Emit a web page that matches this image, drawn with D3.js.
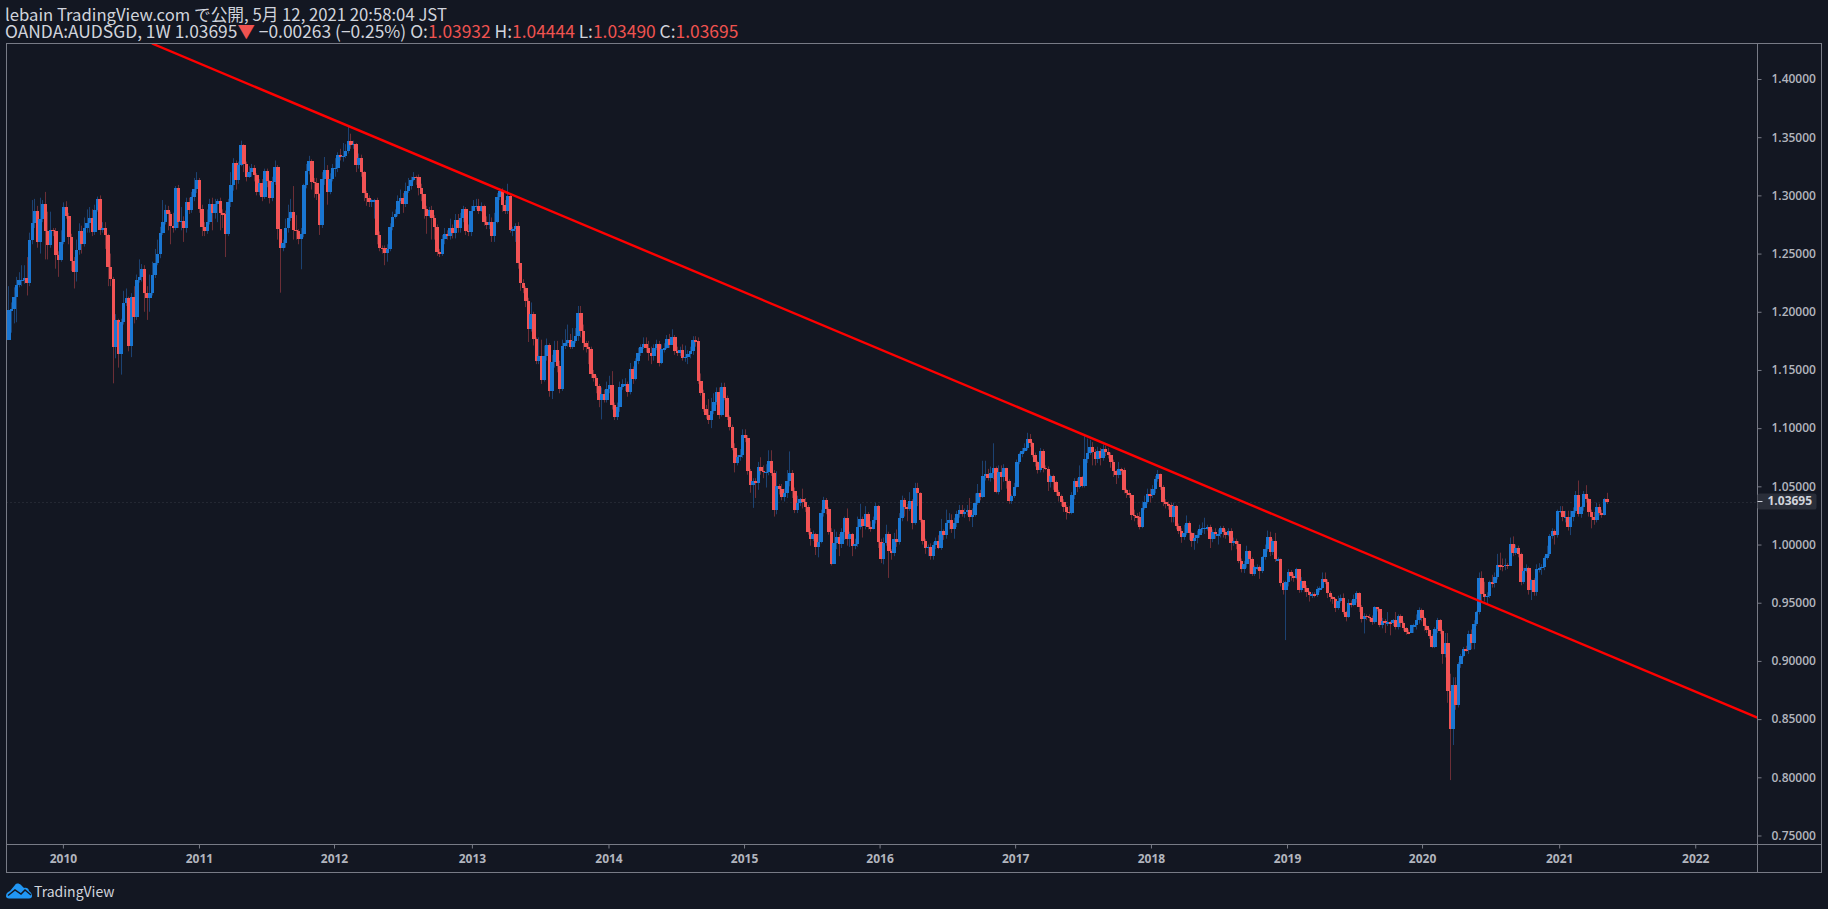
<!DOCTYPE html>
<html lang="ja">
<head>
  <meta charset="UTF-8" />
  <title>OANDA:AUDSGD 1W</title>
  <script src="https://d3js.org/d3.v7.min.js"></script>
  <style>
    html, body { margin: 0; background: #131722; overflow: hidden; }
    svg { display: block; }
    .head { font-family: "Noto Sans CJK JP", sans-serif; fill: #d1d4dc; }
    .head .dn { fill: #ef5350; }
    .tick text { font-family: "Open Sans", sans-serif; font-size: 12px; font-weight: 600; fill: #b2b5be; }
    .year .tick text { font-weight: 700; }
    .tick line, .frame { stroke: #787b86; }
    .domain { display: none; }
    .brand { font-family: "Noto Sans CJK JP", sans-serif; font-size: 14px; fill: #d1d4dc; }
    .body { shape-rendering: crispEdges; }
  </style>
</head>
<body>
  <svg id="chart" width="1828" height="909"></svg>
  <script>
    // weekly bars, first bar Aug 2009, last bar May 2021
    const opens = [
      1.1757,1.2015,1.2021,1.2124,1.2227,1.2270,1.2273,1.2287,1.2247,1.2617,
      1.2760,1.2866,1.2602,1.2797,1.2926,1.2697,1.2574,1.2703,1.2697,1.2488,
      1.2448,1.2602,1.2897,1.2826,1.2645,1.2439,1.2345,1.2531,1.2691,1.2582,
      1.2717,1.2760,1.2803,1.2688,1.2875,1.2966,1.2703,1.2717,1.2660,1.2382,
      1.2284,1.1700,1.1929,1.1637,1.1915,1.2073,1.2115,1.1706,1.2127,1.1958,
      1.2270,1.2296,1.2365,1.2164,1.2121,1.2164,1.2316,1.2416,1.2496,1.2674,
      1.2771,1.2875,1.2837,1.2740,1.2723,1.3064,1.2774,1.2780,1.2723,1.2943,
      1.2875,1.2983,1.3052,1.3132,1.2880,1.2731,1.2694,1.2771,1.2926,1.2846,
      1.2926,1.2952,1.2846,1.2843,1.2671,1.2940,1.3089,1.3278,1.3132,1.3261,
      1.3433,1.3267,1.3161,1.3198,1.3233,1.3175,1.3029,1.3104,1.2986,1.3210,
      1.3121,1.2978,1.3115,1.3244,1.2708,1.2548,1.2588,1.2717,1.2803,1.2857,
      1.2703,1.2694,1.2628,1.2668,1.3089,1.3213,1.3293,1.3115,1.3104,1.3009,
      1.2746,1.3138,1.3218,1.3029,1.3138,1.3233,1.3238,1.3347,1.3333,1.3339,
      1.3379,1.3470,1.3430,1.3442,1.3261,1.3321,1.3198,1.3018,1.2981,1.2943,
      1.2958,1.2958,1.2660,1.2551,1.2548,1.2502,1.2537,1.2726,1.2812,1.2837,
      1.2952,1.2975,1.2926,1.3038,1.3081,1.3132,1.3161,1.3155,1.3061,1.3009,
      1.2880,1.2823,1.2875,1.2809,1.2731,1.2517,1.2496,1.2625,1.2665,1.2654,
      1.2723,1.2674,1.2789,1.2720,1.2803,1.2883,1.2697,1.2685,1.2863,1.2909,
      1.2909,1.2869,1.2909,1.2774,1.2745,1.2768,1.2654,1.2768,1.2983,1.3040,
      1.2917,1.2869,1.2995,1.2702,1.2708,1.2737,1.2416,1.2250,1.2201,1.2095,
      1.1854,1.1981,1.1763,1.1579,1.1620,1.1416,1.1620,1.1714,1.1322,1.1571,
      1.1671,1.1537,1.1336,1.1706,1.1734,1.1757,1.1700,1.1751,1.1791,1.1992,
      1.1834,1.1728,1.1700,1.1677,1.1465,1.1428,1.1362,1.1241,1.1293,1.1241,
      1.1333,1.1370,1.1199,1.1095,1.1178,1.1356,1.1376,1.1376,1.1310,1.1505,
      1.1419,1.1574,1.1643,1.1694,1.1723,1.1685,1.1648,1.1620,1.1685,1.1723,
      1.1562,1.1677,1.1688,1.1766,1.1714,1.1780,1.1663,1.1648,1.1668,1.1605,
      1.1614,1.1634,1.1663,1.1757,1.1752,1.1408,1.1305,1.1167,1.1113,1.1070,
      1.1150,1.1224,1.1310,1.1113,1.1353,1.1262,1.1093,1.1007,1.0829,1.0703,
      1.0749,1.0766,1.0941,1.0912,1.0635,1.0514,1.0543,1.0526,1.0666,1.0635,
      1.0626,1.0626,1.0715,1.0612,1.0297,1.0503,1.0474,1.0411,1.0440,1.0543,
      1.0612,1.0463,1.0297,1.0354,1.0388,1.0362,1.0325,1.0110,1.0047,1.0087,
      0.9981,1.0019,1.0268,1.0380,1.0302,1.0105,0.9833,1.0010,1.0062,1.0004,
      1.0108,1.0225,1.0047,1.0087,0.9990,1.0002,1.0148,1.0219,1.0159,1.0262,
      1.0153,1.0133,1.0211,1.0331,1.0024,0.9878,1.0010,1.0090,0.9947,0.9927,
      1.0045,1.0022,1.0225,1.0383,1.0325,1.0302,1.0371,1.0188,1.0486,1.0440,
      1.0211,1.0027,0.9967,0.9979,0.9901,0.9993,1.0030,0.9970,1.0116,1.0082,
      1.0182,1.0211,1.0133,1.0182,1.0259,1.0297,1.0262,1.0279,1.0297,1.0239,
      1.0251,1.0354,1.0443,1.0405,1.0589,1.0606,1.0572,1.0617,1.0655,1.0451,
      1.0623,1.0583,1.0655,1.0549,1.0377,1.0417,1.0497,1.0709,1.0778,1.0804,
      1.0829,1.0907,1.0869,1.0772,1.0706,1.0640,1.0804,1.0660,1.0652,1.0534,
      1.0589,1.0537,1.0454,1.0417,1.0368,1.0325,1.0282,1.0274,1.0423,1.0546,
      1.0497,1.0577,1.0506,1.0735,1.0784,1.0835,1.0792,1.0735,1.0801,1.0741,
      1.0821,1.0798,1.0769,1.0712,1.0632,1.0597,1.0646,1.0640,1.0468,1.0440,
      1.0423,1.0254,1.0245,1.0239,1.0153,1.0310,1.0368,1.0434,1.0428,1.0474,
      1.0560,1.0606,1.0497,1.0368,1.0348,1.0339,1.0233,1.0331,1.0161,1.0119,
      1.0067,1.0101,1.0182,1.0096,1.0030,1.0058,1.0081,1.0130,1.0144,1.0144,
      1.0147,1.0047,1.0104,1.0087,1.0087,1.0139,1.0104,1.0081,1.0116,1.0015,
      1.0030,1.0001,0.9858,0.9789,0.9832,0.9944,0.9872,0.9746,0.9803,0.9803,
      0.9772,0.9889,0.9958,1.0067,0.9932,1.0030,0.9872,0.9872,0.9666,0.9609,
      0.9675,0.9763,0.9729,0.9715,0.9789,0.9609,0.9686,0.9629,0.9589,0.9566,
      0.9574,0.9566,0.9614,0.9623,0.9703,0.9680,0.9586,0.9551,0.9531,0.9457,
      0.9517,0.9537,0.9417,0.9379,0.9494,0.9480,0.9531,0.9580,0.9460,0.9362,
      0.9388,0.9379,0.9365,0.9337,0.9460,0.9445,0.9308,0.9342,0.9322,0.9331,
      0.9322,0.9351,0.9288,0.9385,0.9322,0.9279,0.9248,0.9242,0.9308,0.9308,
      0.9351,0.9437,0.9368,0.9299,0.9265,0.9216,0.9122,0.9271,0.9351,0.9259,
      0.9059,0.9150,0.8744,0.8417,0.8790,0.8623,0.8970,0.9044,0.9099,0.9093,
      0.9231,0.9150,0.9317,0.9417,0.9709,0.9572,0.9546,0.9560,0.9675,0.9666,
      0.9718,0.9824,0.9818,0.9815,0.9826,0.9818,1.0004,0.9930,0.9970,0.9918,
      0.9680,0.9772,0.9798,0.9609,0.9695,0.9594,0.9789,0.9795,0.9809,0.9884,
      0.9918,1.0076,1.0116,1.0084,1.0285,1.0291,1.0239,1.0239,1.0153,1.0239,
      1.0291,1.0425,1.0262,1.0319,1.0434,1.0388,1.0276,1.0239,1.0210,1.0319,
      1.0273,1.0253,1.03932
    ];
    const closes = [
      1.2015,1.2021,1.2124,1.2227,1.2270,1.2273,1.2287,1.2247,1.2617,1.2760,
      1.2866,1.2602,1.2797,1.2926,1.2697,1.2574,1.2703,1.2697,1.2488,1.2448,
      1.2602,1.2897,1.2826,1.2645,1.2439,1.2345,1.2531,1.2691,1.2582,1.2717,
      1.2760,1.2803,1.2688,1.2875,1.2966,1.2703,1.2717,1.2660,1.2382,1.2284,
      1.1700,1.1929,1.1637,1.1915,1.2073,1.2115,1.1706,1.2127,1.1958,1.2270,
      1.2296,1.2365,1.2164,1.2121,1.2164,1.2316,1.2416,1.2496,1.2674,1.2771,
      1.2875,1.2837,1.2740,1.2723,1.3064,1.2774,1.2780,1.2723,1.2943,1.2875,
      1.2983,1.3052,1.3132,1.2880,1.2731,1.2694,1.2771,1.2926,1.2846,1.2926,
      1.2952,1.2846,1.2843,1.2671,1.2940,1.3089,1.3278,1.3132,1.3261,1.3433,
      1.3267,1.3161,1.3198,1.3233,1.3175,1.3029,1.3104,1.2986,1.3210,1.3121,
      1.2978,1.3115,1.3244,1.2708,1.2548,1.2588,1.2717,1.2803,1.2857,1.2703,
      1.2694,1.2628,1.2668,1.3089,1.3213,1.3293,1.3115,1.3104,1.3009,1.2746,
      1.3138,1.3218,1.3029,1.3138,1.3233,1.3238,1.3347,1.3333,1.3339,1.3379,
      1.3470,1.3430,1.3442,1.3261,1.3321,1.3198,1.3018,1.2981,1.2943,1.2958,
      1.2958,1.2660,1.2551,1.2548,1.2502,1.2537,1.2726,1.2812,1.2837,1.2952,
      1.2975,1.2926,1.3038,1.3081,1.3132,1.3161,1.3155,1.3061,1.3009,1.2880,
      1.2823,1.2875,1.2809,1.2731,1.2517,1.2496,1.2625,1.2665,1.2654,1.2723,
      1.2674,1.2789,1.2720,1.2803,1.2883,1.2697,1.2685,1.2863,1.2909,1.2909,
      1.2869,1.2909,1.2774,1.2745,1.2768,1.2654,1.2768,1.2983,1.3040,1.2917,
      1.2869,1.2995,1.2702,1.2708,1.2737,1.2416,1.2250,1.2201,1.2095,1.1854,
      1.1981,1.1763,1.1579,1.1620,1.1416,1.1620,1.1714,1.1322,1.1571,1.1671,
      1.1537,1.1336,1.1706,1.1734,1.1757,1.1700,1.1751,1.1791,1.1992,1.1834,
      1.1728,1.1700,1.1677,1.1465,1.1428,1.1362,1.1241,1.1293,1.1241,1.1333,
      1.1370,1.1199,1.1095,1.1178,1.1356,1.1376,1.1376,1.1310,1.1505,1.1419,
      1.1574,1.1643,1.1694,1.1723,1.1685,1.1648,1.1620,1.1685,1.1723,1.1562,
      1.1677,1.1688,1.1766,1.1714,1.1780,1.1663,1.1648,1.1668,1.1605,1.1614,
      1.1634,1.1663,1.1757,1.1752,1.1408,1.1305,1.1167,1.1113,1.1070,1.1150,
      1.1224,1.1310,1.1113,1.1353,1.1262,1.1093,1.1007,1.0829,1.0703,1.0749,
      1.0766,1.0941,1.0912,1.0635,1.0514,1.0543,1.0526,1.0666,1.0635,1.0626,
      1.0626,1.0715,1.0612,1.0297,1.0503,1.0474,1.0411,1.0440,1.0543,1.0612,
      1.0463,1.0297,1.0354,1.0388,1.0362,1.0325,1.0110,1.0047,1.0087,0.9981,
      1.0019,1.0268,1.0380,1.0302,1.0105,0.9833,1.0010,1.0062,1.0004,1.0108,
      1.0225,1.0047,1.0087,0.9990,1.0002,1.0148,1.0219,1.0159,1.0262,1.0153,
      1.0133,1.0211,1.0331,1.0024,0.9878,1.0010,1.0090,0.9947,0.9927,1.0045,
      1.0022,1.0225,1.0383,1.0325,1.0302,1.0371,1.0188,1.0486,1.0440,1.0211,
      1.0027,0.9967,0.9979,0.9901,0.9993,1.0030,0.9970,1.0116,1.0082,1.0182,
      1.0211,1.0133,1.0182,1.0259,1.0297,1.0262,1.0279,1.0297,1.0239,1.0251,
      1.0354,1.0443,1.0405,1.0589,1.0606,1.0572,1.0617,1.0655,1.0451,1.0623,
      1.0583,1.0655,1.0549,1.0377,1.0417,1.0497,1.0709,1.0778,1.0804,1.0829,
      1.0907,1.0869,1.0772,1.0706,1.0640,1.0804,1.0660,1.0652,1.0534,1.0589,
      1.0537,1.0454,1.0417,1.0368,1.0325,1.0282,1.0274,1.0423,1.0546,1.0497,
      1.0577,1.0506,1.0735,1.0784,1.0835,1.0792,1.0735,1.0801,1.0741,1.0821,
      1.0798,1.0769,1.0712,1.0632,1.0597,1.0646,1.0640,1.0468,1.0440,1.0423,
      1.0254,1.0245,1.0239,1.0153,1.0310,1.0368,1.0434,1.0428,1.0474,1.0560,
      1.0606,1.0497,1.0368,1.0348,1.0339,1.0233,1.0331,1.0161,1.0119,1.0067,
      1.0101,1.0182,1.0096,1.0030,1.0058,1.0081,1.0130,1.0144,1.0144,1.0147,
      1.0047,1.0104,1.0087,1.0087,1.0139,1.0104,1.0081,1.0116,1.0015,1.0030,
      1.0001,0.9858,0.9789,0.9832,0.9944,0.9872,0.9746,0.9803,0.9803,0.9772,
      0.9889,0.9958,1.0067,0.9932,1.0030,0.9872,0.9872,0.9666,0.9609,0.9675,
      0.9763,0.9729,0.9715,0.9789,0.9609,0.9686,0.9629,0.9589,0.9566,0.9574,
      0.9566,0.9614,0.9623,0.9703,0.9680,0.9586,0.9551,0.9531,0.9457,0.9517,
      0.9537,0.9417,0.9379,0.9494,0.9480,0.9531,0.9580,0.9460,0.9362,0.9388,
      0.9379,0.9365,0.9337,0.9460,0.9445,0.9308,0.9342,0.9322,0.9331,0.9322,
      0.9351,0.9288,0.9385,0.9322,0.9279,0.9248,0.9242,0.9308,0.9308,0.9351,
      0.9437,0.9368,0.9299,0.9265,0.9216,0.9122,0.9271,0.9351,0.9259,0.9059,
      0.9150,0.8744,0.8417,0.8790,0.8623,0.8970,0.9044,0.9099,0.9093,0.9231,
      0.9150,0.9317,0.9417,0.9709,0.9572,0.9546,0.9560,0.9675,0.9666,0.9718,
      0.9824,0.9818,0.9815,0.9826,0.9818,1.0004,0.9930,0.9970,0.9918,0.9680,
      0.9772,0.9798,0.9609,0.9695,0.9594,0.9789,0.9795,0.9809,0.9884,0.9918,
      1.0076,1.0116,1.0084,1.0285,1.0291,1.0239,1.0239,1.0153,1.0239,1.0291,
      1.0425,1.0262,1.0319,1.0434,1.0388,1.0276,1.0239,1.0210,1.0319,1.0273,
      1.0253,1.0388,1.03695
    ];
    const highs = [
      1.222,1.208,1.221,1.230,1.234,1.240,1.240,1.247,1.268,1.296,
      1.297,1.291,1.298,1.296,1.303,1.286,1.286,1.272,1.272,1.252,
      1.270,1.294,1.295,1.285,1.267,1.247,1.262,1.276,1.274,1.281,
      1.288,1.290,1.288,1.292,1.299,1.300,1.277,1.277,1.267,1.250,
      1.230,1.198,1.194,1.194,1.218,1.220,1.213,1.216,1.222,1.232,
      1.245,1.241,1.240,1.222,1.232,1.243,1.254,1.262,1.273,1.296,
      1.292,1.291,1.286,1.285,1.308,1.309,1.290,1.282,1.298,1.298,
      1.303,1.315,1.320,1.315,1.292,1.277,1.288,1.297,1.298,1.297,
      1.297,1.298,1.288,1.287,1.297,1.320,1.332,1.330,1.329,1.347,
      1.344,1.329,1.325,1.327,1.326,1.319,1.314,1.314,1.323,1.323,
      1.313,1.316,1.330,1.326,1.271,1.262,1.280,1.292,1.297,1.308,
      1.283,1.271,1.272,1.310,1.327,1.334,1.331,1.315,1.315,1.302,
      1.320,1.333,1.326,1.319,1.327,1.332,1.337,1.340,1.345,1.344,
      1.359,1.353,1.347,1.345,1.336,1.335,1.321,1.304,1.300,1.297,
      1.297,1.298,1.269,1.257,1.257,1.258,1.276,1.286,1.288,1.300,
      1.305,1.302,1.311,1.315,1.316,1.320,1.317,1.318,1.310,1.300,
      1.291,1.290,1.291,1.283,1.275,1.254,1.266,1.272,1.270,1.280,
      1.275,1.284,1.284,1.285,1.291,1.290,1.275,1.291,1.296,1.297,
      1.297,1.294,1.292,1.282,1.284,1.281,1.285,1.302,1.306,1.306,
      1.296,1.310,1.302,1.273,1.276,1.277,1.240,1.228,1.222,1.212,
      1.208,1.200,1.178,1.178,1.176,1.171,1.177,1.173,1.163,1.175,
      1.175,1.158,1.176,1.185,1.189,1.181,1.186,1.186,1.205,1.205,
      1.189,1.175,1.175,1.170,1.150,1.145,1.138,1.135,1.133,1.140,
      1.145,1.149,1.122,1.122,1.140,1.142,1.143,1.140,1.156,1.153,
      1.160,1.169,1.172,1.178,1.178,1.175,1.170,1.172,1.176,1.175,
      1.172,1.173,1.180,1.181,1.185,1.180,1.170,1.170,1.172,1.171,
      1.167,1.170,1.179,1.179,1.178,1.147,1.133,1.120,1.125,1.126,
      1.130,1.135,1.135,1.139,1.139,1.128,1.111,1.103,1.087,1.077,
      1.082,1.099,1.099,1.094,1.065,1.057,1.057,1.071,1.075,1.068,
      1.069,1.081,1.081,1.064,1.063,1.052,1.052,1.048,1.064,1.080,
      1.064,1.049,1.042,1.040,1.048,1.040,1.034,1.014,1.012,1.010,
      1.009,1.030,1.041,1.040,1.032,1.014,1.013,1.011,1.009,1.014,
      1.024,1.031,1.011,1.010,1.005,1.024,1.035,1.024,1.033,1.028,
      1.020,1.024,1.036,1.034,1.005,1.006,1.017,1.011,0.996,1.010,
      1.013,1.027,1.042,1.040,1.035,1.045,1.039,1.053,1.053,1.045,
      1.022,1.005,1.000,1.001,1.002,1.006,1.008,1.022,1.013,1.030,
      1.027,1.026,1.023,1.029,1.034,1.034,1.031,1.034,1.040,1.031,
      1.044,1.052,1.047,1.072,1.072,1.065,1.067,1.087,1.067,1.068,
      1.068,1.069,1.066,1.056,1.043,1.053,1.073,1.079,1.083,1.087,
      1.096,1.095,1.088,1.079,1.072,1.083,1.082,1.068,1.067,1.060,
      1.060,1.055,1.047,1.043,1.039,1.034,1.033,1.045,1.057,1.057,
      1.068,1.059,1.093,1.091,1.090,1.088,1.082,1.084,1.083,1.086,
      1.085,1.083,1.079,1.073,1.064,1.071,1.066,1.066,1.048,1.047,
      1.043,1.030,1.027,1.028,1.037,1.042,1.048,1.048,1.051,1.059,
      1.064,1.061,1.051,1.039,1.037,1.036,1.036,1.034,1.018,1.014,
      1.017,1.025,1.020,1.011,1.010,1.012,1.017,1.019,1.023,1.017,
      1.017,1.013,1.014,1.013,1.016,1.016,1.013,1.014,1.014,1.006,
      1.005,1.003,0.988,0.986,0.999,0.995,0.989,0.982,0.983,0.982,
      0.990,1.000,1.012,1.011,1.005,1.010,0.989,0.988,0.969,0.969,
      0.979,0.978,0.975,0.980,0.979,0.972,0.969,0.965,0.960,0.959,
      0.959,0.964,0.964,0.976,0.976,0.970,0.960,0.956,0.954,0.956,
      0.957,0.958,0.943,0.953,0.952,0.957,0.960,0.959,0.948,0.941,
      0.940,0.940,0.939,0.947,0.946,0.945,0.937,0.936,0.942,0.934,
      0.936,0.942,0.940,0.940,0.934,0.929,0.927,0.931,0.932,0.940,
      0.946,0.945,0.938,0.931,0.928,0.923,0.929,0.937,0.936,0.927,
      0.924,0.924,0.889,0.886,0.886,0.899,0.906,0.912,0.913,0.926,
      0.927,0.935,0.943,0.976,0.977,0.968,0.959,0.969,0.974,0.976,
      0.992,0.993,0.988,0.988,0.984,1.006,1.007,1.000,0.999,0.993,
      0.980,0.983,0.981,0.970,0.971,0.983,0.984,0.983,0.990,0.999,
      1.009,1.014,1.013,1.030,1.033,1.033,1.029,1.029,1.029,1.032,
      1.046,1.055,1.033,1.046,1.051,1.040,1.030,1.028,1.036,1.035,
      1.030,1.040,1.04444
    ];
    const lows = [
      1.176,1.182,1.190,1.191,1.221,1.222,1.224,1.214,1.222,1.258,
      1.272,1.255,1.250,1.277,1.245,1.245,1.255,1.265,1.237,1.230,
      1.243,1.258,1.280,1.258,1.235,1.220,1.226,1.249,1.250,1.256,
      1.268,1.268,1.265,1.266,1.286,1.266,1.268,1.254,1.222,1.222,
      1.1385,1.160,1.152,1.146,1.189,1.205,1.166,1.161,1.190,1.193,
      1.225,1.226,1.200,1.193,1.200,1.214,1.229,1.240,1.246,1.266,
      1.275,1.270,1.258,1.268,1.270,1.272,1.270,1.260,1.268,1.284,
      1.285,1.295,1.302,1.285,1.265,1.265,1.267,1.275,1.270,1.280,
      1.277,1.270,1.272,1.247,1.265,1.290,1.304,1.305,1.310,1.325,
      1.320,1.312,1.315,1.316,1.312,1.300,1.300,1.295,1.297,1.307,
      1.293,1.295,1.309,1.262,1.2164,1.252,1.255,1.268,1.278,1.262,
      1.262,1.258,1.2365,1.264,1.306,1.318,1.305,1.298,1.296,1.266,
      1.272,1.309,1.292,1.301,1.312,1.316,1.320,1.330,1.329,1.332,
      1.336,1.340,1.340,1.320,1.323,1.316,1.295,1.291,1.290,1.290,
      1.280,1.258,1.252,1.250,1.240,1.243,1.252,1.270,1.280,1.282,
      1.293,1.285,1.290,1.302,1.305,1.312,1.309,1.300,1.295,1.280,
      1.267,1.281,1.262,1.262,1.248,1.247,1.248,1.258,1.262,1.262,
      1.263,1.263,1.268,1.268,1.277,1.266,1.265,1.265,1.287,1.288,
      1.284,1.286,1.274,1.271,1.271,1.260,1.260,1.276,1.296,1.286,
      1.284,1.284,1.268,1.265,1.260,1.237,1.218,1.216,1.204,1.174,
      1.183,1.171,1.155,1.155,1.138,1.140,1.158,1.127,1.125,1.152,
      1.148,1.130,1.132,1.168,1.170,1.168,1.168,1.173,1.175,1.178,
      1.167,1.165,1.155,1.143,1.140,1.130,1.118,1.1075,1.122,1.122,
      1.130,1.116,1.107,1.107,1.114,1.133,1.132,1.127,1.129,1.138,
      1.141,1.155,1.162,1.168,1.165,1.158,1.155,1.158,1.167,1.153,
      1.155,1.165,1.168,1.169,1.176,1.163,1.162,1.162,1.158,1.157,
      1.155,1.160,1.163,1.170,1.138,1.128,1.114,1.108,1.1035,1.100,
      1.112,1.120,1.108,1.110,1.124,1.107,1.098,1.081,1.062,1.068,
      1.072,1.0745,1.088,1.060,1.0445,1.0315,1.040,1.047,1.060,1.057,
      1.049,1.0595,1.059,1.024,1.026,1.043,1.038,1.037,1.040,1.050,
      1.040,1.027,1.027,1.033,1.031,1.028,1.0085,0.999,1.003,0.991,
      0.989,1.001,1.024,1.026,1.0085,0.982,0.9835,0.996,0.990,0.997,
      1.004,0.999,0.998,0.990,0.996,0.998,1.013,1.006,1.013,1.013,
      1.011,1.013,1.018,0.997,0.984,0.983,0.999,0.9713,0.987,0.990,
      0.998,1.000,1.020,1.024,1.020,1.029,1.013,1.017,1.033,1.019,
      1.000,0.992,0.990,0.987,0.987,0.996,0.996,0.9955,1.004,1.005,
      1.013,1.010,1.005,1.015,1.023,1.024,1.023,1.025,1.020,1.015,
      1.024,1.034,1.038,1.040,1.055,1.055,1.054,1.056,1.044,1.043,
      1.047,1.054,1.048,1.035,1.035,1.040,1.049,1.069,1.075,1.079,
      1.081,1.084,1.075,1.067,1.061,1.062,1.062,1.064,1.046,1.049,
      1.047,1.042,1.037,1.033,1.028,1.0215,1.026,1.026,1.039,1.045,
      1.048,1.049,1.049,1.070,1.077,1.068,1.068,1.070,1.068,1.072,
      1.076,1.074,1.066,1.058,1.052,1.057,1.060,1.044,1.040,1.040,
      1.021,1.020,1.017,1.013,1.014,1.030,1.035,1.036,1.040,1.044,
      1.054,1.047,1.033,1.031,1.030,1.019,1.019,1.013,1.009,1.0015,
      1.004,1.008,1.004,0.998,0.9955,1.001,1.006,1.010,1.009,1.012,
      0.997,1.002,1.005,1.000,1.006,1.006,1.005,1.007,0.995,0.999,
      0.996,0.984,0.976,0.9755,0.980,0.975,0.973,0.973,0.978,0.9705,
      0.9755,0.987,0.994,0.990,0.991,0.985,0.986,0.964,0.957,0.9179,
      0.964,0.969,0.968,0.970,0.9585,0.959,0.959,0.955,0.951,0.954,
      0.9545,0.955,0.959,0.962,0.966,0.954,0.951,0.949,0.942,0.944,
      0.950,0.940,0.934,0.937,0.946,0.947,0.950,0.942,0.933,0.9236,
      0.935,0.934,0.931,0.932,0.9425,0.929,0.928,0.924,0.930,0.922,
      0.930,0.927,0.927,0.929,0.926,0.9225,0.923,0.924,0.924,0.927,
      0.932,0.934,0.926,0.924,0.919,0.911,0.911,0.924,0.923,0.8975,
      0.903,0.864,0.7976,0.8277,0.858,0.860,0.894,0.903,0.908,0.906,
      0.910,0.910,0.930,0.940,0.950,0.951,0.949,0.954,0.963,0.963,
      0.970,0.978,0.977,0.978,0.979,0.9815,0.990,0.991,0.989,0.965,
      0.966,0.976,0.957,0.9523,0.956,0.956,0.976,0.974,0.978,0.987,
      0.990,1.005,1.000,1.006,1.027,1.020,1.019,1.012,1.0081,1.020,
      1.027,1.024,1.023,1.029,1.036,1.024,1.0139,1.017,1.019,1.025,
      1.023,1.025,1.0349
    ];

    const priceTicks = [1.40,1.35,1.30,1.25,1.20,1.15,1.10,1.05,1.00,0.95,0.90,0.85,0.80,0.75];
    const yearLabels = ["2010","2011","2012","2013","2014","2015","2016","2017","2018","2019","2020","2021","2022"];
    const yearBars = [20.9,73,124.7,177.5,229.8,281.7,333.6,385.5,437.5,489.6,541.3,593.8,645.9];
    const lastPrice = 1.03695;
    const trendBars = [55,669.7];
    const trendPrices = [1.4305,0.8512];

    const upBody = "#1976d2", downBody = "#f25355";
    const upWick = "#1c4272", downWick = "#6b2e36";
    const frameL = 6.5, frameR = 1757.5, frameT = 43.5, frameB = 844.5, outerR = 1821.5, outerB = 872.5;

    const svg = d3.select("#chart");
    const x = d3.scaleLinear().domain([0, 612]).range([8.3, 1606.7]);
    const y = d3.scaleLinear().domain([1.40, 0.80]).range([79, 777.3]);

    svg.append("clipPath").attr("id", "plot").append("rect")
      .attr("x", frameL).attr("y", frameT).attr("width", frameR - frameL).attr("height", frameB - frameT);
    const plot = svg.append("g").attr("clip-path", "url(#plot)");

    // last price line sits under the candles
    plot.append("line")
      .attr("x1", frameL).attr("x2", frameR)
      .attr("y1", Math.round(y(lastPrice)) + .5).attr("y2", Math.round(y(lastPrice)) + .5)
      .attr("stroke", "#363a45").attr("stroke-dasharray", "1 3");

    const bars = d3.range(closes.length);
    plot.selectAll("line.wick").data(bars).enter().append("line")
      .attr("class", "wick")
      .attr("x1", i => Math.round(x(i)) + .5).attr("x2", i => Math.round(x(i)) + .5)
      .attr("y1", i => y(highs[i])).attr("y2", i => y(lows[i]))
      .attr("stroke", i => closes[i] >= opens[i] ? upWick : downWick);

    plot.selectAll("rect.body").data(bars).enter().append("rect")
      .attr("class", "body")
      .attr("x", i => x(i) - 1.25)
      .attr("width", 3.5)
      .attr("y", i => y(Math.max(opens[i], closes[i])))
      .attr("height", i => Math.max(1.5, Math.abs(y(opens[i]) - y(closes[i]))))
      .attr("fill", i => closes[i] >= opens[i] ? upBody : downBody);

    plot.append("line")
      .attr("x1", x(trendBars[0])).attr("y1", y(trendPrices[0]))
      .attr("x2", x(trendBars[1])).attr("y2", y(trendPrices[1]))
      .attr("stroke", "#ff0000").attr("stroke-width", 2.4);

    // axes
    const yAxis = d3.axisRight(y).tickValues(priceTicks).tickFormat(d => d.toFixed(5)).tickSize(4).tickPadding(10);
    svg.append("g").attr("transform", `translate(${frameR},0)`).call(yAxis);
    const xAxis = d3.axisBottom(x).tickValues(yearBars).tickFormat((d, i) => yearLabels[i]).tickSize(4).tickPadding(6);
    svg.append("g").attr("class", "year").attr("transform", `translate(0,${frameB})`).call(xAxis);

    // frame
    svg.append("rect").attr("class", "frame").attr("fill", "none")
      .attr("x", frameL).attr("y", frameT).attr("width", outerR - frameL).attr("height", outerB - frameT);
    svg.append("line").attr("class", "frame").attr("x1", frameR).attr("x2", frameR).attr("y1", frameT).attr("y2", outerB);
    svg.append("line").attr("class", "frame").attr("x1", frameL).attr("x2", outerR).attr("y1", frameB).attr("y2", frameB);

    // last price tag
    const tag = svg.append("g").attr("transform", `translate(${frameR},${y(lastPrice)})`);
    tag.append("rect").attr("x", 0).attr("y", -8).attr("width", 59).attr("height", 16).attr("rx", 2).attr("fill", "#2a2e39");
    tag.append("line").attr("x1", 0).attr("x2", 5).attr("stroke", "#d1d4dc");
    tag.append("text").attr("x", 10).attr("dy", "0.32em")
      .attr("font-family", "Open Sans, sans-serif").attr("font-size", 12).attr("font-weight", 700)
      .attr("fill", "#d1d4dc").text(lastPrice.toFixed(5));

    // header
    svg.append("text").attr("class", "head").attr("x", 5).attr("y", 20.5).attr("font-size", 16.7)
      .text("lebain TradingView.com で公開, 5月 12, 2021 20:58:04 JST");
    const head2 = svg.append("text").attr("class", "head").attr("x", 5).attr("y", 38).attr("font-size", 17.4);
    head2.append("tspan").text("OANDA:AUDSGD, 1W 1.03695");
    head2.append("tspan").attr("class", "dn").text("▼");
    head2.append("tspan").text(" −0.00263 (−0.25%) O:");
    head2.append("tspan").attr("class", "dn").text("1.03932");
    head2.append("tspan").text(" H:");
    head2.append("tspan").attr("class", "dn").text("1.04444");
    head2.append("tspan").text(" L:");
    head2.append("tspan").attr("class", "dn").text("1.03490");
    head2.append("tspan").text(" C:");
    head2.append("tspan").attr("class", "dn").text("1.03695");

    // logo
    const logo = svg.append("g").attr("transform", "translate(6,883)");
    logo.append("path").attr("fill", "#2196f3")
      .attr("d", "M0 13 C0 10 2 9 4 8 L9 2 C10 0 13 0 15 2 L18 5 C21 4 23 6 23 8 C25 9 26 11 26 13 C26 14.5 25 15.5 23 15.5 L3 15.5 C1 15.5 0 14.5 0 13 Z");
    logo.append("path").attr("fill", "none").attr("stroke", "#131722").attr("stroke-width", 1.5)
      .attr("d", "M2 12.5 L9 7 L15 11 L19 7 L25 12");
    svg.append("text").attr("class", "brand").attr("x", 34).attr("y", 897).text("TradingView");
  </script>
</body>
</html>
